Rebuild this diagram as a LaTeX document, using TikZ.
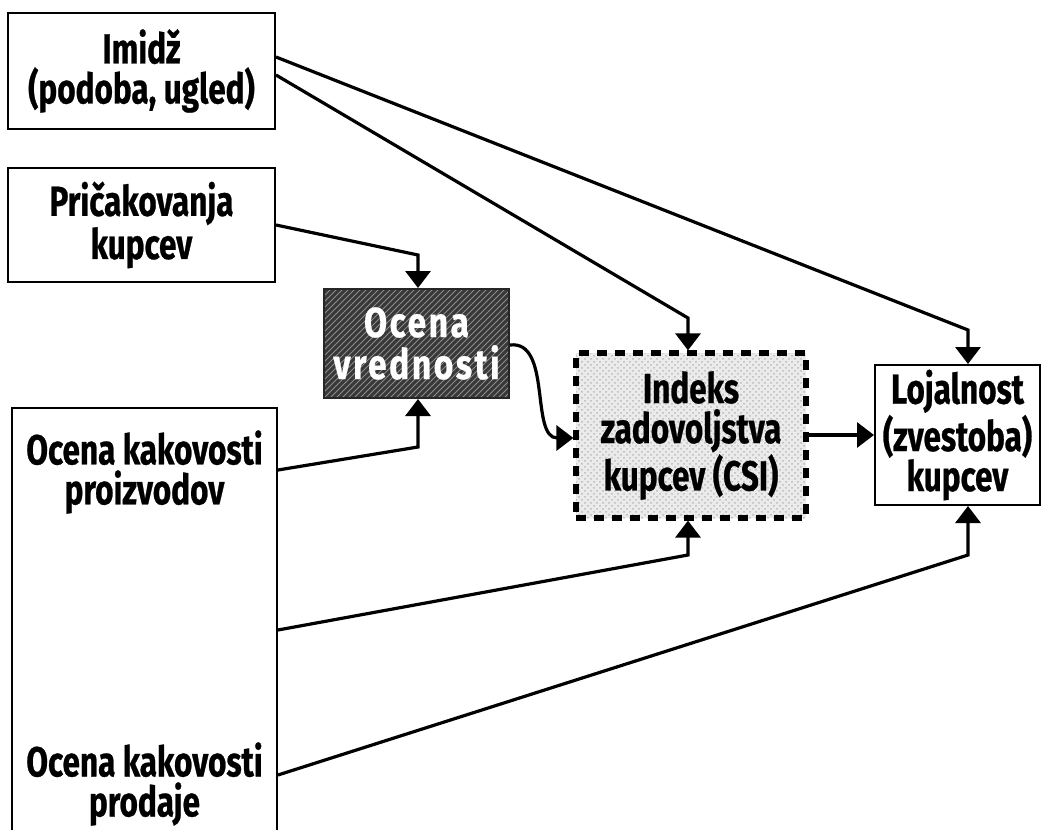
\documentclass[tikz,border=0pt]{standalone}
\usepackage{fontspec}
\setmainfont{Fira Sans}[FakeStretch=0.75,BoldFeatures={FakeBold=0.6}]
\newfontfamily\spacedfont{Fira Sans}[FakeStretch=0.8,LetterSpace=6,BoldFeatures={FakeBold=0.6}]
\usetikzlibrary{arrows.meta,patterns,calc}
\begin{document}
\begin{tikzpicture}[x=0.5pt,y=-0.5pt,
  label/.style={font=\fontsize{21}{20}\selectfont\bfseries,align=center},
  plainbox/.style={label,draw,line width=1pt,inner sep=0pt,fill=white},
  link/.style={line width=1.6pt,-{Triangle[width=12.5pt,length=8.5pt]}}]
\useasboundingbox (0,0) rectangle (1046,830);
\fill[white] (0,0) rectangle (1046,830);

% source boxes on the left
\node[plainbox,minimum width=133.5pt,minimum height=58pt] (imidz) at (141.5,71) {Imidž\\(podoba, ugled)};
\node[plainbox,minimum width=133.5pt,minimum height=57pt] (prica) at (141.5,225) {Pričakovanja\\kupcev};
\node[draw,line width=1pt,minimum width=132.5pt,minimum height=230pt,inner sep=0pt] (qual) at (144.5,638) {};
\node[label] (qprod) at (144.5,472) {Ocena kakovosti\\proizvodov};
\node[label] (qsale) at (144.5,784) {Ocena kakovosti\\prodaje};

% perceived value
\node[draw=black!85,line width=1pt,minimum width=92.5pt,minimum height=54.5pt,inner sep=0pt,
      preaction={fill=black!78},pattern=north east lines,pattern color=black!45,
      text=white,font=\spacedfont\fontsize{21}{21}\selectfont\bfseries,align=center]
      (vred) at (416.5,343.5) {Ocena\\vrednosti};

% customer satisfaction index
\node[label,draw,line width=2.6pt,dash pattern=on 5pt off 4pt,
      preaction={fill=gray!16},pattern=crosshatch dots,pattern color=gray!55,
      minimum width=115pt,minimum height=82.5pt,inner sep=0pt] (csi) at (691,435.5)
      {Indeks\\zadovoljstva\\kupcev (CSI)};

% loyalty
\node[plainbox,minimum width=82.5pt,minimum height=70pt] (loj) at (957.5,435)
      {Lojalnost\\(zvestoba)\\kupcev};

% column guides for the vertical arrow ends
\coordinate (kV) at (418,0);
\coordinate (kC) at (688,0);
\coordinate (kL) at (968,0);

% connectors
\draw[link] (imidz.east |- 0,57) -- (968,330) -- (loj.north -| kL);
\draw[link] (imidz.east |- 0,75) -- (688,318) -- (csi.north -| kC);
\draw[link] (prica.east |- 0,225) -- (418,255) -- (vred.north -| kV);
\draw[link] (qual.east |- 0,470) -- (418,447) -- (vred.south -| kV);
\draw[link] (vred.east |- 0,345) .. controls (552,340) and (530,438) .. (csi.west |- 0,438);
\draw[link] (qual.east |- 0,630) -- (688,555) -- (csi.south -| kC);
\draw[link] (qual.east |- 0,775) -- (968,555) -- (loj.south -| kL);
\draw[link] (csi.east |- 0,435) -- (loj.west |- 0,435);
\end{tikzpicture}
\end{document}
